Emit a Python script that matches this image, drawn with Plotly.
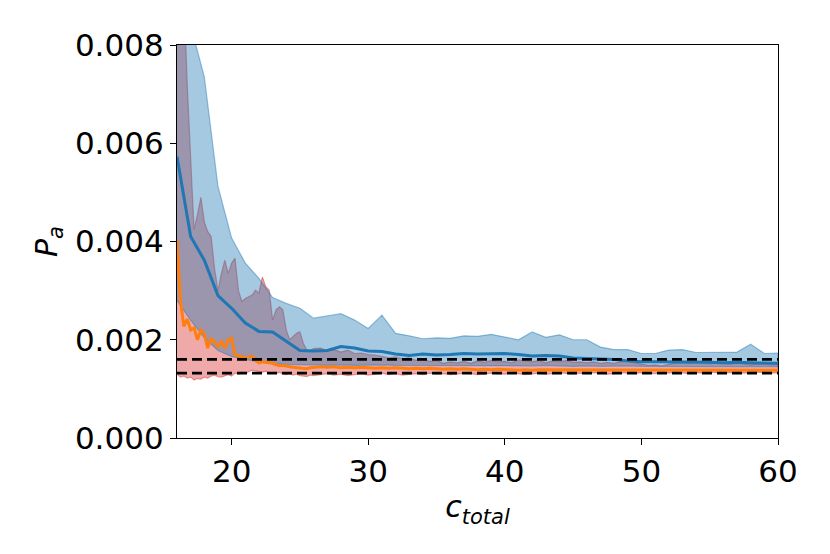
import numpy as np
import plotly.graph_objects as go

# blue run: one value per integer c_total
blue_x = np.arange(16, 61, 1)
blue_mean = [0.00573, 0.00410, 0.00362, 0.00290, 0.00264, 0.00234, 0.00217, 0.00216, 0.00197, 0.00178,
             0.00177, 0.00178, 0.00186, 0.00183, 0.00177, 0.00176, 0.00171, 0.00168, 0.00171, 0.00169,
             0.00170, 0.00172, 0.00171, 0.00172, 0.00172, 0.00170, 0.00167, 0.00168, 0.00167, 0.00163,
             0.00162, 0.00161, 0.00160, 0.00157, 0.00155, 0.00155, 0.00155, 0.00154, 0.00155, 0.00154,
             0.00153, 0.00154, 0.00153, 0.00152, 0.00152]
blue_upper = [0.01250, 0.00840, 0.00735, 0.00512, 0.00407, 0.00356, 0.00325, 0.00286, 0.00274, 0.00264,
              0.00244, 0.00248, 0.00253, 0.00240, 0.00223, 0.00250, 0.00213, 0.00208, 0.00202, 0.00204,
              0.00203, 0.00208, 0.00207, 0.00211, 0.00206, 0.00200, 0.00216, 0.00205, 0.00210, 0.00200,
              0.00200, 0.00185, 0.00180, 0.00180, 0.00172, 0.00172, 0.00179, 0.00180, 0.00174, 0.00174,
              0.00174, 0.00175, 0.00191, 0.00172, 0.00173]
blue_lower = [0.00280, 0.00240, 0.00204, 0.00178, 0.00166, 0.00160, 0.00155, 0.00152, 0.00150, 0.00149,
              0.00149, 0.00148, 0.00149, 0.00148, 0.00148, 0.00149, 0.00148, 0.00148, 0.00147, 0.00148,
              0.00148, 0.00147, 0.00148, 0.00147, 0.00148, 0.00147, 0.00147, 0.00148, 0.00147, 0.00146,
              0.00147, 0.00146, 0.00146, 0.00147, 0.00146, 0.00146, 0.00145, 0.00146, 0.00145, 0.00146,
              0.00145, 0.00145, 0.00146, 0.00145, 0.00145]

# red run: finer steps early on, coarser later
red_x = np.concatenate([np.arange(16, 26.01, 0.25), np.arange(26.5, 60.01, 0.5)])
red_mean = [0.00403, 0.00280, 0.00227, 0.00242, 0.00220, 0.00224, 0.00200, 0.00220, 0.00212, 0.00183,
            0.00203, 0.00195, 0.00186, 0.00196, 0.00183, 0.00200, 0.00203, 0.00169, 0.00167, 0.00166,
            0.00162, 0.00164, 0.00167, 0.00158, 0.00153, 0.00155, 0.00154, 0.00152, 0.00152, 0.00149,
            0.00147, 0.00148, 0.00146, 0.00145, 0.00144, 0.00143, 0.00142, 0.00142, 0.00141, 0.00143,
            0.00144,
            0.00145, 0.00144, 0.00145, 0.00143, 0.00144, 0.00143, 0.00144, 0.00143, 0.00142, 0.00143,
            0.00142, 0.00143, 0.00142, 0.00141, 0.00142, 0.00141, 0.00142, 0.00141, 0.00140, 0.00141,
            0.00140, 0.00141, 0.00140, 0.00139, 0.00140, 0.00139, 0.00140, 0.00139, 0.00139, 0.00138,
            0.00139, 0.00138, 0.00139, 0.00139, 0.00138, 0.00139, 0.00138, 0.00138, 0.00139, 0.00138,
            0.00139, 0.00138, 0.00138, 0.00139, 0.00138, 0.00138, 0.00139, 0.00138, 0.00138, 0.00139,
            0.00138, 0.00138, 0.00139, 0.00138, 0.00138, 0.00139, 0.00138, 0.00138, 0.00138, 0.00139,
            0.00138, 0.00138, 0.00139, 0.00138, 0.00138, 0.00138, 0.00139, 0.00138]
red_upper = [0.01300, 0.01100, 0.00880, 0.00720, 0.00570, 0.00424, 0.00455, 0.00490, 0.00440, 0.00420,
             0.00410, 0.00345, 0.00300, 0.00335, 0.00362, 0.00335, 0.00356, 0.00366, 0.00300, 0.00278,
             0.00284, 0.00288, 0.00291, 0.00301, 0.00295, 0.00328, 0.00308, 0.00301, 0.00240, 0.00261,
             0.00267, 0.00261, 0.00220, 0.00200, 0.00206, 0.00213, 0.00216, 0.00193, 0.00179, 0.00178,
             0.00182,
             0.00183, 0.00178, 0.00180, 0.00175, 0.00179, 0.00172, 0.00173, 0.00170, 0.00169, 0.00166,
             0.00163, 0.00165, 0.00161, 0.00163, 0.00158, 0.00160, 0.00156, 0.00158, 0.00152, 0.00155,
             0.00153, 0.00156, 0.00152, 0.00157, 0.00154, 0.00158, 0.00155, 0.00156, 0.00153, 0.00159,
             0.00157, 0.00155, 0.00158, 0.00153, 0.00157, 0.00155, 0.00158, 0.00154, 0.00155, 0.00153,
             0.00155, 0.00152, 0.00154, 0.00152, 0.00155, 0.00156, 0.00153, 0.00150, 0.00148, 0.00149,
             0.00147, 0.00150, 0.00153, 0.00154, 0.00152, 0.00155, 0.00153, 0.00151, 0.00154, 0.00152,
             0.00150, 0.00153, 0.00151, 0.00149, 0.00151, 0.00150, 0.00149, 0.00150]
red_lower = [0.00130, 0.00124, 0.00126, 0.00122, 0.00124, 0.00118, 0.00121, 0.00120, 0.00124, 0.00122,
             0.00126, 0.00128, 0.00125, 0.00124, 0.00127, 0.00129, 0.00126, 0.00132, 0.00130, 0.00134,
             0.00131, 0.00135, 0.00138, 0.00137, 0.00135, 0.00134, 0.00136, 0.00132, 0.00133, 0.00131,
             0.00134, 0.00130, 0.00129, 0.00131, 0.00128, 0.00130, 0.00127, 0.00126, 0.00125, 0.00128,
             0.00127,
             0.00129, 0.00131, 0.00128, 0.00130, 0.00127, 0.00129, 0.00131, 0.00128, 0.00130, 0.00132,
             0.00129, 0.00131, 0.00128, 0.00130, 0.00131, 0.00129, 0.00132, 0.00130, 0.00131, 0.00129,
             0.00130, 0.00132, 0.00131, 0.00129, 0.00130, 0.00132, 0.00131, 0.00130, 0.00132, 0.00131,
             0.00129, 0.00131, 0.00132, 0.00130, 0.00131, 0.00133, 0.00131, 0.00130, 0.00132, 0.00131,
             0.00133, 0.00132, 0.00130, 0.00131, 0.00133, 0.00132, 0.00131, 0.00133, 0.00132, 0.00131,
             0.00133, 0.00132, 0.00134, 0.00132, 0.00131, 0.00133, 0.00132, 0.00134, 0.00133, 0.00132,
             0.00133, 0.00134, 0.00132, 0.00133, 0.00134, 0.00133, 0.00132, 0.00133]

ref_levels = [0.00160, 0.00132]
x_range = [16, 60]
y_range = [0, 0.008]

for arr in (red_mean, red_upper, red_lower):
    assert len(arr) == len(red_x), len(arr)
for arr in (blue_mean, blue_upper, blue_lower):
    assert len(arr) == len(blue_x), len(arr)


def band(x, lo, hi, rgb):
    xs = list(x) + list(x)[::-1]
    ys = list(hi) + list(lo)[::-1]
    return go.Scatter(x=xs, y=ys, mode="lines", fill="toself",
                      fillcolor="rgba(%d,%d,%d,0.4)" % rgb,
                      line=dict(color="rgba(%d,%d,%d,0.45)" % rgb, width=1.2),
                      hoverinfo="skip", showlegend=False)


fig = go.Figure()
fig.add_trace(band(red_x, red_lower, red_upper, (214, 39, 40)))
fig.add_trace(band(blue_x, blue_lower, blue_upper, (31, 119, 180)))
fig.add_trace(go.Scatter(x=blue_x, y=blue_mean, mode="lines",
                         line=dict(color="#1f77b4", width=3), showlegend=False))
fig.add_trace(go.Scatter(x=red_x, y=red_mean, mode="lines",
                         line=dict(color="#ff7f0e", width=3), showlegend=False))
for lvl in ref_levels:
    fig.add_trace(go.Scatter(x=x_range, y=[lvl, lvl], mode="lines",
                             line=dict(color="black", width=2.8, dash="10px,5px"),
                             showlegend=False))

axis_style = dict(showline=True, linecolor="black", linewidth=1.3, mirror=True,
                  ticks="outside", ticklen=6, tickwidth=1.3, tickcolor="black",
                  showgrid=False, zeroline=False, automargin=False,
                  tickfont=dict(family="DejaVu Sans", size=31, color="black"))

fig.update_xaxes(range=x_range, tickvals=[20, 30, 40, 50, 60],
                 title=dict(text="<i>c</i><sub><i>total</i></sub>", standoff=5,
                            font=dict(family="DejaVu Sans", size=30, color="black")),
                 **axis_style)
fig.update_yaxes(range=y_range, tickvals=[0, 0.002, 0.004, 0.006, 0.008], tickformat=".3f",
                 title=dict(text="<i>P</i><sub><i>a</i></sub>", standoff=8,
                            font=dict(family="DejaVu Sans", size=30, color="black")),
                 **axis_style)

# page body adds an 8px offset, so the figure is a little smaller than the window
fig.update_layout(width=822, height=546, plot_bgcolor="white", paper_bgcolor="white",
                  margin=dict(l=169, r=52, t=37, b=116),
                  font=dict(family="DejaVu Sans", color="black"))

fig.write_html("out.html")
